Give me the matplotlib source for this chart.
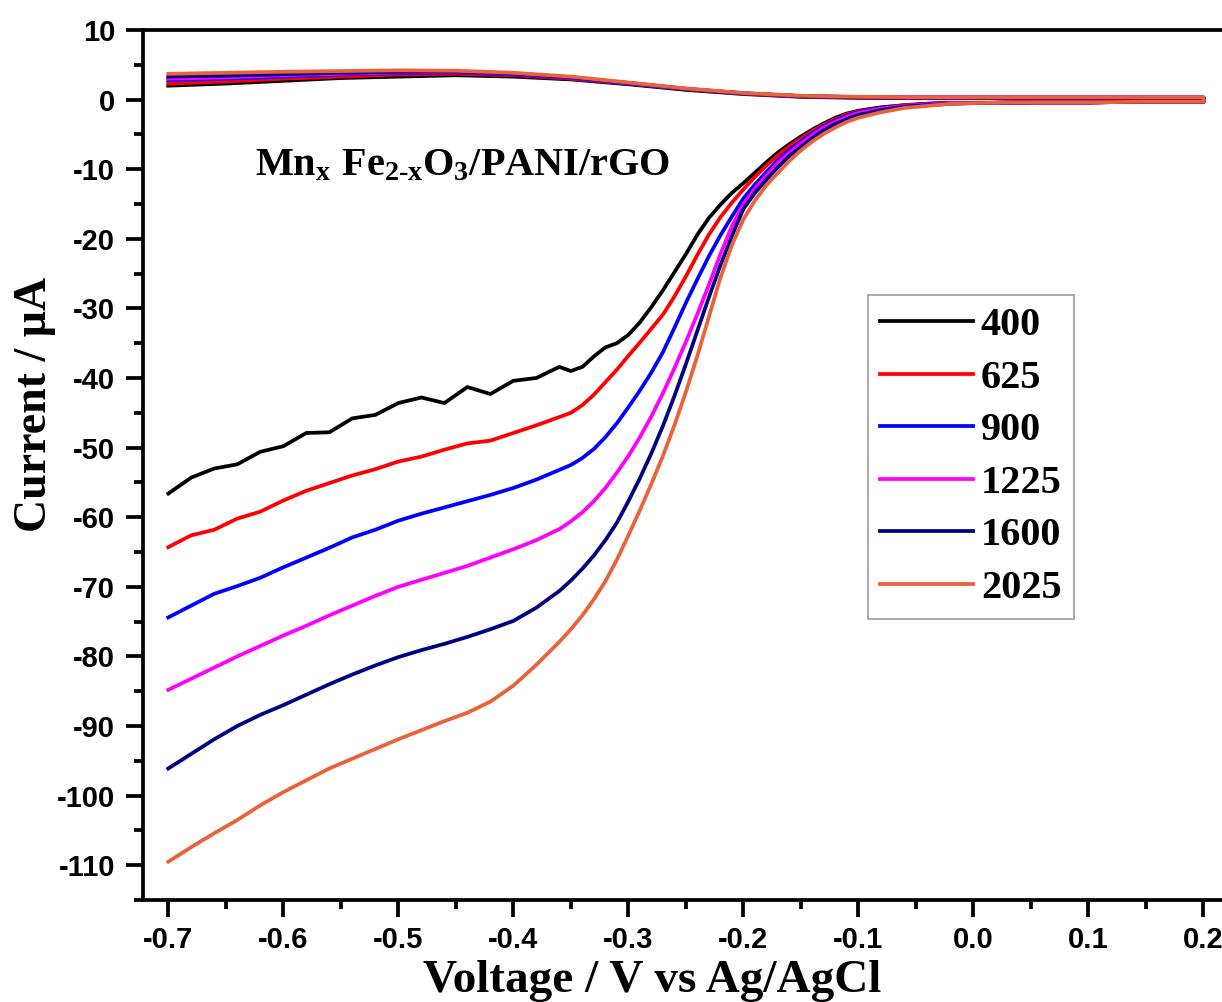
import matplotlib
matplotlib.use('Agg')
import matplotlib.pyplot as plt
from matplotlib.ticker import MultipleLocator

plt.rcParams['mathtext.fontset'] = 'custom'
plt.rcParams['mathtext.rm'] = 'Liberation Serif:bold'
plt.rcParams['mathtext.it'] = 'Liberation Serif:bold'
plt.rcParams['mathtext.bf'] = 'Liberation Serif:bold'

# forward (cathodic) branch, shared voltage grid
v_fwd = [-0.70, -0.68, -0.66, -0.64, -0.62, -0.60, -0.58, -0.56, -0.54, -0.52,
         -0.50, -0.48, -0.46, -0.44, -0.42, -0.40, -0.38, -0.36,
         -0.35, -0.34, -0.33, -0.32, -0.31, -0.30, -0.29, -0.28, -0.27, -0.26,
         -0.25, -0.24, -0.23, -0.22, -0.21, -0.20, -0.19, -0.18, -0.17, -0.16,
         -0.15, -0.14, -0.13, -0.12, -0.11, -0.10,
         -0.08, -0.06, -0.04, -0.02, 0.00, 0.05, 0.10, 0.15, 0.20]

i_400 = [-56.6, -54.3, -53.0, -52.4, -50.6, -49.8, -47.9, -47.8, -45.8, -45.3,
         -43.6, -42.8, -43.6, -41.3, -42.3, -40.4, -40.0, -38.4,
         -39.0, -38.4, -36.9, -35.6, -35.0, -33.8, -32.0, -29.8, -27.4, -24.8,
         -22.2, -19.4, -17.0, -15.1, -13.4, -12.0, -10.5, -9.0, -7.6, -6.4,
         -5.3, -4.3, -3.4, -2.6, -2.0, -1.6,
         -1.1, -0.8, -0.6, -0.5, -0.5, -0.4, -0.4, -0.3, -0.3]
i_625 = [-64.3, -62.6, -61.8, -60.2, -59.2, -57.6, -56.2, -55.1, -54.0, -53.1,
         -52.0, -51.3, -50.3, -49.4, -49.0, -47.9, -46.8, -45.6,
         -45.0, -43.9, -42.4, -40.6, -38.8, -36.8, -34.9, -32.9, -30.9, -28.3,
         -25.4, -22.3, -19.4, -16.9, -14.8, -12.9, -11.1, -9.5, -8.0, -6.7,
         -5.6, -4.5, -3.6, -2.8, -2.1, -1.7,
         -1.2, -0.8, -0.6, -0.5, -0.5, -0.4, -0.4, -0.3, -0.3]
i_900 = [-74.4, -72.7, -71.0, -69.9, -68.7, -67.2, -65.8, -64.4, -62.9, -61.8,
         -60.5, -59.5, -58.6, -57.7, -56.8, -55.8, -54.6, -53.2,
         -52.5, -51.5, -50.2, -48.5, -46.5, -44.2, -41.8, -39.2, -36.3, -32.8,
         -29.2, -25.8, -22.5, -19.5, -16.8, -14.2, -12.2, -10.4, -8.7, -7.2,
         -6.0, -4.8, -3.8, -3.0, -2.3, -1.8,
         -1.2, -0.9, -0.6, -0.5, -0.5, -0.4, -0.4, -0.3, -0.3]
i_1225 = [-84.8, -83.2, -81.6, -80.0, -78.5, -77.0, -75.6, -74.1, -72.7, -71.3,
          -70.0, -69.0, -68.0, -67.0, -65.8, -64.6, -63.3, -61.7,
          -60.6, -59.3, -57.7, -55.8, -53.6, -51.2, -48.5, -45.5, -42.2, -38.6,
          -34.8, -30.8, -26.6, -22.2, -18.2, -15.0, -12.8, -10.9, -9.1, -7.6,
          -6.3, -5.1, -4.0, -3.2, -2.5, -1.9,
          -1.3, -0.9, -0.7, -0.5, -0.5, -0.4, -0.4, -0.3, -0.3]
i_1600 = [-96.1, -94.0, -91.9, -90.0, -88.4, -87.0, -85.5, -84.0, -82.6, -81.3,
          -80.1, -79.1, -78.2, -77.2, -76.1, -74.9, -73.0, -70.6,
          -69.1, -67.4, -65.5, -63.3, -60.8, -57.7, -54.4, -50.8, -46.9, -42.6,
          -38.0, -33.2, -28.4, -23.8, -19.6, -15.7, -13.4, -11.5, -9.7, -8.1,
          -6.8, -5.5, -4.4, -3.5, -2.8, -2.2,
          -1.5, -1.0, -0.8, -0.6, -0.5, -0.4, -0.4, -0.3, -0.3]
i_2025 = [-109.5, -107.4, -105.4, -103.5, -101.4, -99.5, -97.8, -96.1, -94.7, -93.3,
          -91.9, -90.6, -89.3, -88.1, -86.5, -84.2, -81.2, -77.9,
          -76.1, -74.1, -71.8, -69.2, -66.1, -62.6, -59.0, -55.2, -51.2, -46.8,
          -42.0, -36.8, -31.2, -25.6, -20.9, -17.2, -14.5, -12.3, -10.5, -8.8,
          -7.3, -6.0, -4.9, -4.0, -3.2, -2.6,
          -1.8, -1.2, -0.9, -0.6, -0.5, -0.4, -0.4, -0.3, -0.3]

# return (anodic) branch
v_rev = [0.20, 0.10, 0.00, -0.05, -0.10, -0.15, -0.20, -0.25, -0.30, -0.35,
         -0.40, -0.45, -0.50, -0.55, -0.60, -0.65, -0.70]
r_400 = [0.2, 0.2, 0.2, 0.2, 0.25, 0.4, 0.8, 1.4, 2.2, 2.9, 3.3, 3.5, 3.3, 3.1, 2.7, 2.3, 2.0]
r_625 = [0.2, 0.2, 0.2, 0.25, 0.3, 0.45, 0.85, 1.5, 2.3, 3.0, 3.5, 3.7, 3.6, 3.3, 3.0, 2.6, 2.3]
r_900 = [0.3, 0.3, 0.3, 0.3, 0.35, 0.5, 0.9, 1.5, 2.3, 3.1, 3.6, 3.9, 3.8, 3.6, 3.3, 3.0, 2.8]
r_1225 = [0.3, 0.3, 0.3, 0.3, 0.35, 0.5, 0.9, 1.55, 2.35, 3.15, 3.7, 4.0, 3.9, 3.7, 3.5, 3.2, 3.0]
r_1600 = [0.3, 0.3, 0.3, 0.3, 0.35, 0.5, 0.9, 1.55, 2.4, 3.2, 3.75, 4.05, 4.0, 3.85, 3.65, 3.45, 3.3]
r_2025 = [0.35, 0.35, 0.35, 0.35, 0.4, 0.55, 0.95, 1.6, 2.45, 3.3, 3.85, 4.15, 4.2, 4.1, 4.0, 3.85, 3.7]

labels = ['400', '625', '900', '1225', '1600', '2025']
colors = ['#000000', '#ff0000', '#0000ff', '#ff00ff', '#000080', '#eb613a']
fwd = [i_400, i_625, i_900, i_1225, i_1600, i_2025]
rev = [r_400, r_625, r_900, r_1225, r_1600, r_2025]

fig = plt.figure(figsize=(12.22, 10.02), dpi=100)
ax = fig.add_axes([143 / 1222, 102 / 1002, 1095 / 1222, 870 / 1002])

for lab, col, f, r in zip(labels, colors, fwd, rev):
    ax.plot(v_fwd + v_rev, f + r, color=col, lw=2.7, label=lab)

ax.set_xlim(-0.722, 0.23)
ax.set_ylim(-115, 10)
ax.xaxis.set_minor_locator(MultipleLocator(0.05))
ax.yaxis.set_minor_locator(MultipleLocator(5))
ax.set_xticks([-0.7, -0.6, -0.5, -0.4, -0.3, -0.2, -0.1, 0.0, 0.1, 0.2])
ax.set_xticklabels(['-0.7', '-0.6', '-0.5', '-0.4', '-0.3', '-0.2', '-0.1', '0.0', '0.1', '0.2'])
ax.set_yticks(list(range(10, -111, -10)))
ax.set_yticklabels([str(t) for t in range(10, -111, -10)])

for s in ax.spines.values():
    s.set_linewidth(2.7)
ax.tick_params(which='major', direction='out', length=12, width=2.7)
ax.tick_params(which='minor', direction='out', length=6.5, width=2.7)
ax.tick_params(axis='x', which='major', pad=7)
ax.tick_params(axis='y', which='major', pad=8)
for t in ax.get_xticklabels() + ax.get_yticklabels():
    t.set_fontfamily('Liberation Sans')
    t.set_fontweight('bold')
    t.set_fontsize(21)

fig.text(652 / 1222, 1 - 992 / 1002, 'Voltage / V vs Ag/AgCl', ha='center', va='baseline',
         fontfamily='Liberation Serif', fontweight='bold', fontsize=34)
fig.text(46 / 1222, 1 - 404 / 1002, 'Current / \u03bcA', ha='center', va='baseline',
         rotation=90, rotation_mode='anchor',
         fontfamily='Liberation Serif', fontweight='bold', fontsize=33)
fig.text(255 / 1222, 1 - 175 / 1002, r'$Mn_{x}\ Fe_{2\text{-}x}O_{3}/PANI/rGO$',
         ha='left', va='baseline', fontsize=29)

leg = ax.legend(loc='upper left', bbox_to_anchor=((868 - 143) / 1095, (900 - 295) / 870),
                borderaxespad=0, fancybox=False, handlelength=2.3, handletextpad=0.2,
                labelspacing=0.38, borderpad=0.3,
                prop={'family': 'Liberation Serif', 'weight': 'bold', 'size': 29})
leg.get_frame().set_edgecolor('#808080')
leg.get_frame().set_linewidth(1.2)

fig.savefig('out.png', dpi=100)
